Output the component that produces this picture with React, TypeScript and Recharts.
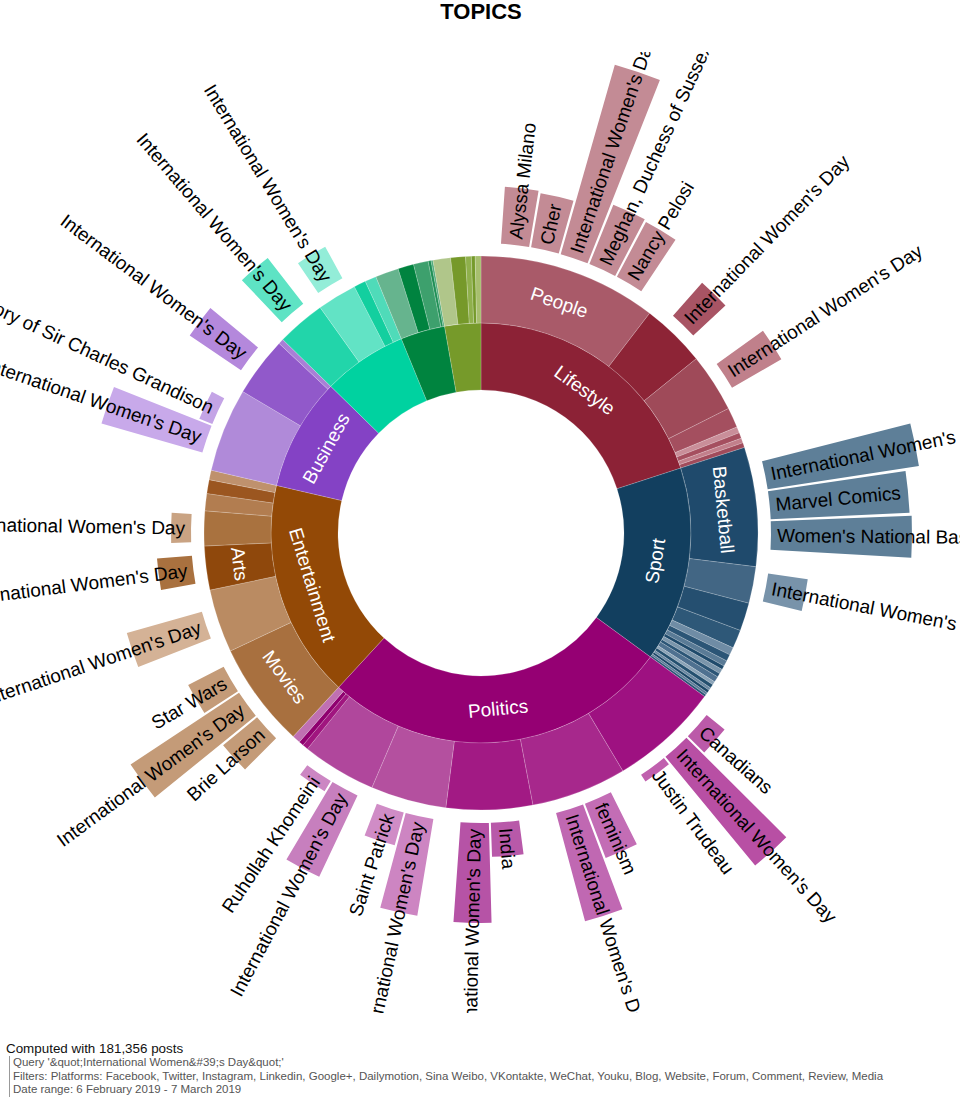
import { PieChart, Pie, Cell, Sector } from 'recharts';

const FONT = '"Liberation Sans", Arial, Helvetica, sans-serif';
const RAD = Math.PI / 180;

// ring 1: topics (the three green ones carry no label in the source)
const topics = ['Lifestyle', 'Sport', 'Politics', 'Entertainment', 'Business', '', '', ''];
const topicColors = ['#8c2236', '#123f5f', '#950073', '#934906', '#8442c5', '#00d2a0', '#00843f', '#769a2a'];

// ring 2: sub-topics, grouped by topic in the order above
const subtopicCount = [8, 17, 8, 7, 3, 4, 5, 5];
const subtopicNames = [
  'People', '', '', '', '', '', '', '',
  'Basketball', '', '', '', '', '', '', '', '', '', '', '', '', '', '', '', '',
  '', '', '', '', '', '', '', '',
  'Movies', '', 'Arts', '', '', '', '',
  '', '', '',
  '', '', '', '',
  '', '', '', '', '',
  '', '', '', '', '',
];
const subtopicShare = [
  37.5, 13.5, 12.3, 4.2, 1.3, 1.2, 1.0, 1.0,
  25, 7.7, 5.9, 3.9, 1.6, 1.4, 1.2, 0.8, 1.0, 0.8, 1.2, 0.7, 0.8, 0.6, 0.6, 0.5, 0.5,
  23, 20, 18.1, 15.9, 15.6, 1.2, 1.0, 1.7,
  22.1, 13.3, 9.2, 7.3, 3.6, 2.9, 2.0,
  17.6, 12.5, 1.1,
  10.2, 8.3, 2.5, 2.4,
  4.9, 3.3, 3.1, 0.6, 0.4,
  3.7, 3.1, 1.2, 0.8, 1.2,
];
const subtopicColors = [
  '#a95a69', '#8d2436', '#9f4a59', '#a44f5f', '#c98e99', '#a54f5f', '#c27f8b', '#a14b5b',
  '#1f4a6c', '#426684', '#254f70', '#2e5878', '#6f8ca5', '#2b5576', '#5a7b96', '#1f4a6b', '#7a95ab',
  '#2b5576', '#4f7190', '#8aa3b7', '#24506f', '#6a88a2', '#1c4767', '#5c7c98', '#2b5576',
  '#9e1181', '#a7288c', '#a21a84', '#b4509f', '#b0479c', '#a0157f', '#8f006f', '#c070b2',
  '#a8703f', '#ba8b62', '#8f480c', '#a9723f', '#b27d50', '#9b5620', '#bf916d',
  '#b08ad9', '#9159ca', '#a97fd6',
  '#22d5aa', '#62e3c5', '#13cf9f', '#4fdbb9',
  '#66b48e', '#00833f', '#3da06d', '#1e8f55', '#4eaa7a',
  '#b0c68a', '#76992a', '#8fb04c', '#759a2b', '#a7bf6e',
];

// ring 3: top entities of a sub-topic (index into the sub-topic arrays)
const IWD = "International Women's Day";
const entitySubtopic = [0, 0, 0, 0, 0, 1, 2, 8, 8, 8, 9, 25, 25, 25, 26, 26, 27, 27, 28, 28, 29, 29, 33, 33, 33, 34, 35, 36, 40, 40, 41, 43, 44];
const entityNames = [
  'Alyssa Milano', 'Cher', IWD, 'Meghan, Duchess of Sussex', 'Nancy Pelosi',
  IWD, IWD,
  IWD, 'Marvel Comics', "Women's National Basketball Association", IWD,
  'Canadians', IWD, 'Justin Trudeau',
  'feminism', IWD,
  'India', IWD,
  IWD, 'Saint Patrick',
  IWD, 'Ruhollah Khomeini',
  'Brie Larson', IWD, 'Star Wars',
  IWD, IWD, IWD,
  IWD, 'The History of Sir Charles Grandison', IWD,
  IWD, IWD,
];
const entityPosts = [
  570, 550, 1970, 640, 620,
  440, 570,
  1530, 1390, 1410, 400,
  230, 1410, 80,
  580, 1120,
  340, 1000,
  980, 340,
  900, 120,
  440, 1300, 400,
  780, 350, 200,
  1050, 140, 620,
  580, 360,
];
const entityColors = [
  '#c38b95', '#c38b95', '#c38b95', '#c38b95', '#c38b95',
  '#a85464', '#c0808b',
  '#5e7f98', '#5e7f98', '#5e7f98', '#7893aa',
  '#bb5aa9', '#b84fa4', '#c060ae',
  '#c36db5', '#c068b2',
  '#b859a9', '#b653a6',
  '#cd85c2', '#d08cc6',
  '#c77fbe', '#cc86c3',
  '#c49b78', '#c49b78', '#c49b78',
  '#d4b296', '#a9713f', '#c9a383',
  '#c8a9ea', '#c4a4e6', '#b488dc',
  '#5ee3c4', '#93edd8',
];

const CX = 481;
const CY = 481;
const HOLE = 143;
const RING1 = 210;
const RING2 = 277;
const BAR_INNER = 290;
const SLOT = 6;
const BAR_GAP = 0.2;
const POST_PX = 0.1;

const subtopicTopic = subtopicCount.flatMap((n, t) => Array(n).fill(t));
const subtopicData = subtopicNames.map((name, i) => ({ name, value: subtopicShare[i], color: subtopicColors[i] }));
const topicData = topics.map((name, t) => ({
  name,
  value: subtopicShare.filter((_, i) => subtopicTopic[i] === t).reduce((a, b) => a + b, 0),
  color: topicColors[t],
}));
const entityData = subtopicShare.flatMap((share, s) => {
  const kids = entityNames.map((_, e) => e).filter((e) => entitySubtopic[e] === s);
  if (!kids.length) return [{ name: '', value: share, spacer: true }];
  const pad = (share - kids.length * SLOT) / 2;
  return [
    { name: '', value: pad, spacer: true },
    ...kids.map((e) => ({ name: entityNames[e], value: SLOT, posts: entityPosts[e], color: entityColors[e] })),
    { name: '', value: pad, spacer: true },
  ];
});

const toClock = (a: number) => (((90 - a) % 360) + 360) % 360;

const RingLabel = (p: any) => {
  const name = p.payload?.name;
  if (!name) return <g />;
  const mid = (p.startAngle + p.endAngle) / 2;
  const t = toClock(mid);
  const r = (p.innerRadius + p.outerRadius) / 2;
  const x = p.cx + r * Math.cos(mid * RAD);
  const y = p.cy - r * Math.sin(mid * RAD);
  const rot = t > 90 && t < 270 ? t - 180 : t >= 270 ? t - 360 : t;
  return (
    <text x={x} y={y} transform={`rotate(${rot} ${x} ${y})`} textAnchor="middle"
      dominantBaseline="central" fill="#fff" fontSize={19} fontFamily={FONT}>
      {name}
    </text>
  );
};

const EntityBar = (p: any) => {
  const d = p.payload;
  if (!d || d.spacer) return <g />;
  return (
    <Sector cx={p.cx} cy={p.cy} innerRadius={BAR_INNER} outerRadius={BAR_INNER + d.posts * POST_PX}
      startAngle={p.startAngle - BAR_GAP} endAngle={p.endAngle + BAR_GAP} fill={d.color} stroke="none" />
  );
};

const EntityLabel = (p: any) => {
  const d = p.payload;
  if (!d || d.spacer) return <g />;
  const mid = (p.startAngle + p.endAngle) / 2;
  const t = toClock(mid);
  const r = BAR_INNER + 6;
  const x = p.cx + r * Math.cos(mid * RAD);
  const y = p.cy - r * Math.sin(mid * RAD);
  const right = t < 180;
  const rot = right ? t - 90 : t - 270;
  return (
    <text x={x} y={y} transform={`rotate(${rot} ${x} ${y})`} textAnchor={right ? 'start' : 'end'}
      dominantBaseline="central" fill="#000" fontSize={19} fontFamily={FONT}>
      {d.name}
    </text>
  );
};

const App = () => (
  <div style={{ position: 'absolute', left: 0, top: 0, width: 960, height: 1097, background: '#fff', fontFamily: FONT, overflow: 'hidden' }}>
    <div style={{ position: 'absolute', left: 0, top: 0, width: 962, textAlign: 'center', fontWeight: 'bold', fontSize: 22, lineHeight: '24px', color: '#000' }}>
      TOPICS
    </div>
    <div style={{ position: 'absolute', left: 0, top: 52 }}>
      <PieChart width={960} height={961} margin={{ top: 0, right: 0, bottom: 0, left: 0 }}>
        <Pie data={topicData} dataKey="value" cx={CX} cy={CY} innerRadius={HOLE} outerRadius={RING1}
          startAngle={90} endAngle={-270} stroke="rgba(255,255,255,0.3)" strokeWidth={0.6}
          label={RingLabel} labelLine={false} isAnimationActive={false}>
          {topicData.map((d, i) => <Cell key={i} fill={d.color} />)}
        </Pie>
        <Pie data={subtopicData} dataKey="value" cx={CX} cy={CY} innerRadius={RING1} outerRadius={RING2}
          startAngle={90} endAngle={-270} stroke="rgba(255,255,255,0.3)" strokeWidth={0.6}
          label={RingLabel} labelLine={false} isAnimationActive={false}>
          {subtopicData.map((d, i) => <Cell key={i} fill={d.color} />)}
        </Pie>
        <Pie data={entityData} dataKey="value" cx={CX} cy={CY} innerRadius={BAR_INNER} outerRadius={BAR_INNER + 1}
          startAngle={90} endAngle={-270} fill="none" stroke="none"
          label={EntityBar} labelLine={false} isAnimationActive={false} />
        <Pie data={entityData} dataKey="value" cx={CX} cy={CY} innerRadius={BAR_INNER} outerRadius={BAR_INNER + 1}
          startAngle={90} endAngle={-270} fill="none" stroke="none"
          label={EntityLabel} labelLine={false} isAnimationActive={false} />
      </PieChart>
    </div>
    <div style={{ position: 'absolute', left: 6, top: 1041, fontSize: 13.4, lineHeight: '15px', color: '#111' }}>
      Computed with 181,356 posts
    </div>
    <div style={{ position: 'absolute', left: 9, top: 1056, borderLeft: '1px solid #999', paddingLeft: 3, fontSize: 11.5, lineHeight: '13.5px', color: '#555', whiteSpace: 'nowrap' }}>
      <div>Query '&amp;quot;International Women&amp;#39;s Day&amp;quot;'</div>
      <div>Filters: Platforms: Facebook, Twitter, Instagram, Linkedin, Google+, Dailymotion, Sina Weibo, VKontakte, WeChat, Youku, Blog, Website, Forum, Comment, Review, Media</div>
      <div>Date range: 6 February 2019 - 7 March 2019</div>
    </div>
  </div>
);

export default App;
